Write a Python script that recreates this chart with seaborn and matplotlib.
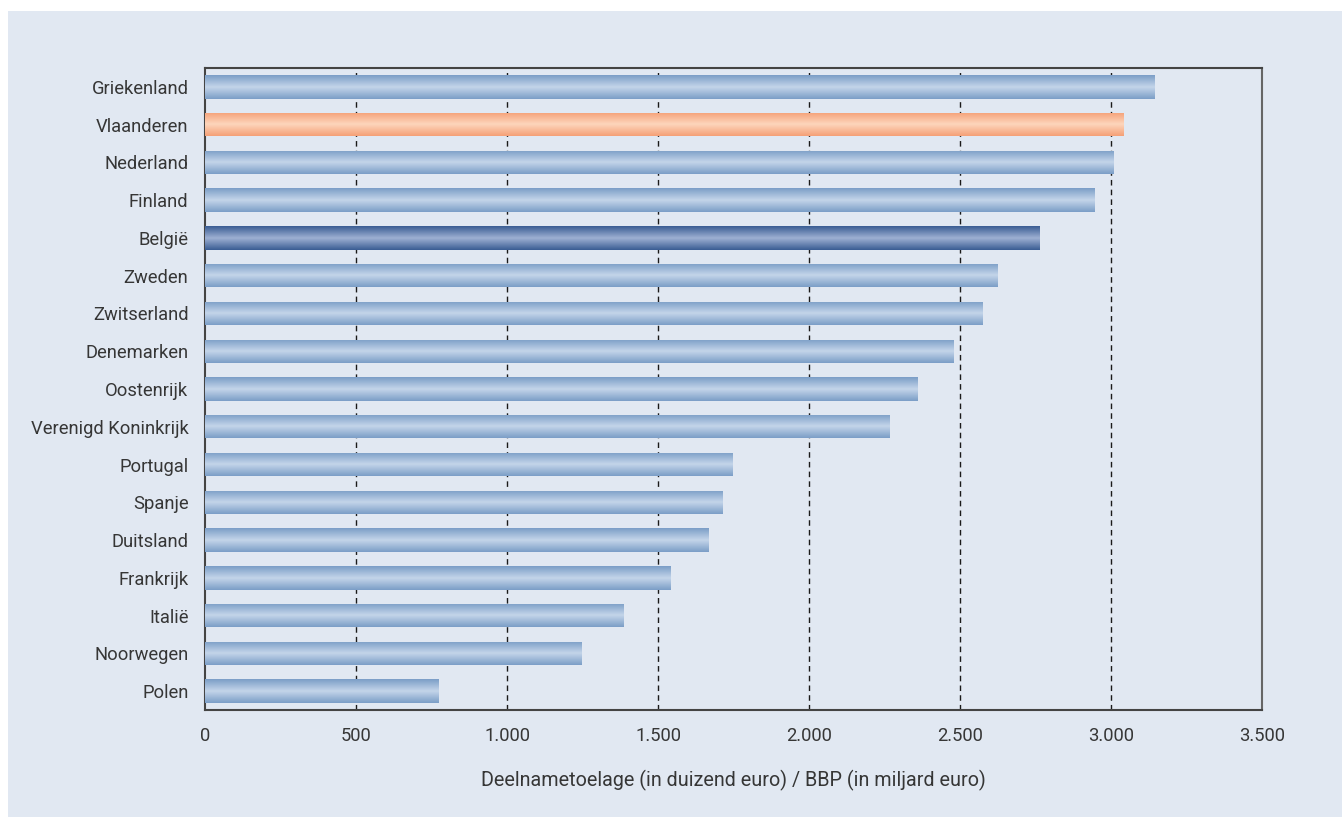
import numpy as np
import pandas as pd
import matplotlib
matplotlib.use("Agg")
import matplotlib.pyplot as plt
from matplotlib.patches import Rectangle
from matplotlib.colors import LinearSegmentedColormap
from matplotlib.ticker import FuncFormatter
import seaborn as sns

# ── Data ─────────────────────────────────────────────────────────────────────
landen = [
    "Griekenland", "Vlaanderen", "Nederland", "Finland", "België", "Zweden",
    "Zwitserland", "Denemarken", "Oostenrijk", "Verenigd Koninkrijk",
    "Portugal", "Spanje", "Duitsland", "Frankrijk", "Italië", "Noorwegen",
    "Polen",
]
waarden = [
    3145, 3040, 3010, 2945, 2765, 2623, 2573, 2480, 2358, 2265,
    1748, 1715, 1666, 1543, 1387, 1248, 772,
]
highlight = {"Vlaanderen": "vl", "België": "be"}

BG = "#e1e8f2"
TXT = "#363636"
gradients = {
    "std": ("#7b9ec7", "#c3d4e9"),
    "vl": ("#f5a077", "#fdd5bb"),
    "be": ("#3a5d93", "#9dafd2"),
}

sns.set_theme(style="white")
plt.rcParams["font.family"] = ["Roboto", "DejaVu Sans"]

df = pd.DataFrame({"land": landen, "waarde": waarden})

fig = plt.figure(figsize=(13.42, 8.17), dpi=100)
fig.patch.set_facecolor("white")
fig.patches.append(Rectangle((8 / 1342, 0), 1, 1 - 11 / 817,
                             transform=fig.transFigure, facecolor=BG,
                             edgecolor="none", zorder=-5))

ax = fig.add_axes([0.1528, 0.131, 0.7876, 0.7858])
ax.set_facecolor(BG)

sns.barplot(data=df, y="land", x="waarde", orient="h", width=0.62,
            color="#9bb8da", ax=ax, zorder=2)

# gradient fill clipped to each bar
grad = np.concatenate([np.linspace(0, 1, 50), np.linspace(1, 0, 50)]).reshape(-1, 1)
for patch, land in zip(ax.patches, landen):
    lo, hi = gradients[highlight.get(land, "std")]
    cmap = LinearSegmentedColormap.from_list("g", [lo, hi])
    x0, y0 = patch.get_x(), patch.get_y()
    w, h = patch.get_width(), patch.get_height()
    im = ax.imshow(grad, cmap=cmap, aspect="auto", interpolation="bilinear",
                   extent=(x0, x0 + w, y0 + h, y0), zorder=3)
    im.set_clip_path(patch)
    patch.set_edgecolor("none")

ax.set_xlim(0, 3500)
ax.set_ylim(16.5, -0.5)
ax.set_xticks(range(0, 3501, 500))
ax.xaxis.set_major_formatter(FuncFormatter(lambda v, p: f"{int(v):,}".replace(",", ".")))

for xv in range(500, 3001, 500):
    ax.axvline(xv, color="#1a1a1a", lw=1.0, ls=(0, (4, 3)), zorder=1)

for side in ["left", "bottom", "top"]:
    ax.spines[side].set_color("#444444")
    ax.spines[side].set_linewidth(1.5)
ax.spines["right"].set_color("#666666")
ax.spines["right"].set_linewidth(1.5)

ax.tick_params(axis="both", length=0, labelsize=13.2, colors=TXT)
ax.tick_params(axis="x", pad=12)
ax.tick_params(axis="y", pad=12)
ax.set_ylabel("")
ax.set_xlabel("Deelnametoelage (in duizend euro) / BBP (in miljard euro)",
              fontsize=14.2, color=TXT, labelpad=18)

fig.savefig("out.png", dpi=100, facecolor=fig.get_facecolor())
